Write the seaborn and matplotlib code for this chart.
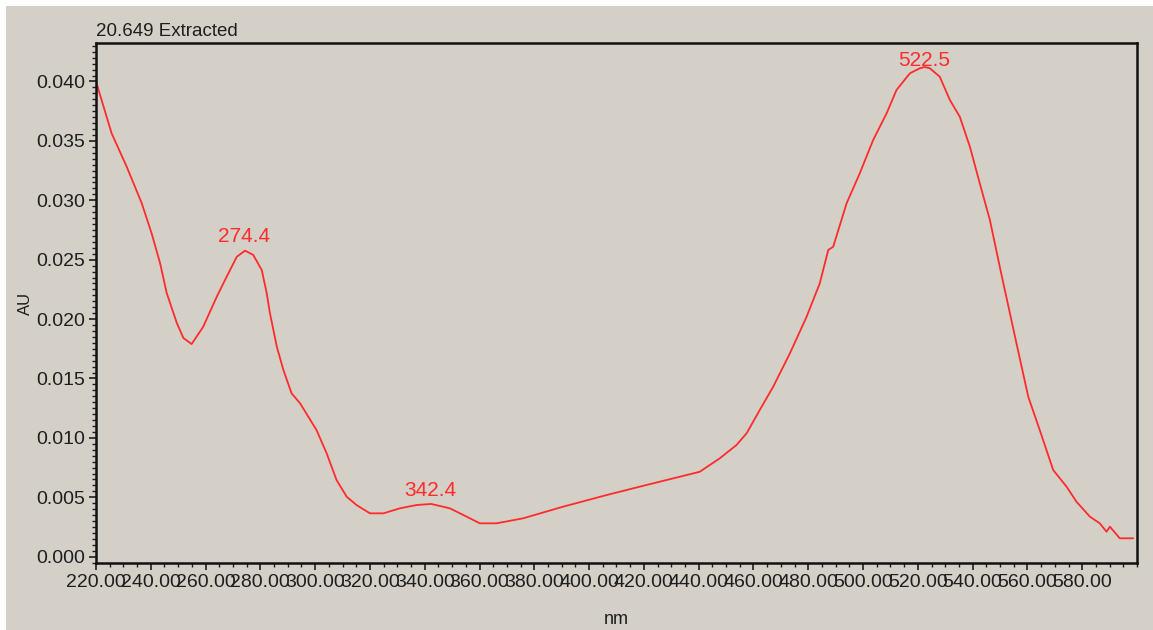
import matplotlib
matplotlib.use("Agg")
import matplotlib.pyplot as plt
from matplotlib.ticker import MultipleLocator, FormatStrFormatter
from matplotlib.patches import Rectangle
import pandas as pd
import seaborn as sns

# Extracted UV-Vis spectrum at 20.649 min
wavelength_nm = [
    220.0, 225.7, 231.2, 236.7, 240.3, 243.4, 245.8, 249.5, 251.9, 254.9,
    259.1, 264.1, 267.7, 271.4, 274.4, 277.4, 280.5, 282.3, 283.5, 286.0,
    288.4, 291.4, 294.5, 300.5, 304.2, 307.8, 311.5, 315.1, 320.0, 324.9,
    330.9, 337.0, 342.4, 349.2, 355.3, 360.1, 366.2, 375.9, 390.5, 406.4,
    421.0, 433.1, 440.4, 447.7, 453.8, 457.5, 462.3, 467.2, 473.3, 479.4,
    484.2, 487.3, 489.1, 494.0, 498.8, 503.7, 508.6, 512.2, 517.1, 520.7,
    522.5, 524.4, 528.0, 531.7, 535.3, 539.0, 542.6, 546.3, 549.9, 556.0,
    560.3, 564.5, 569.4, 574.3, 577.9, 582.8, 586.4, 588.9, 590.1, 593.7,
    598.6,
]
absorbance_au = [
    0.04000, 0.03564, 0.03283, 0.02975, 0.02722, 0.02470, 0.02220, 0.01967, 0.01841, 0.01790,
    0.01934, 0.02189, 0.02357, 0.02525, 0.02576, 0.02540, 0.02413, 0.02220, 0.02049, 0.01768,
    0.01572, 0.01375, 0.01291, 0.01066, 0.00870, 0.00646, 0.00505, 0.00435, 0.00365, 0.00365,
    0.00407, 0.00435, 0.00444, 0.00407, 0.00337, 0.00281, 0.00281, 0.00323, 0.00421, 0.00519,
    0.00604, 0.00673, 0.00715, 0.00828, 0.00940, 0.01039, 0.01235, 0.01431, 0.01712, 0.02020,
    0.02301, 0.02582, 0.02609, 0.02975, 0.03227, 0.03508, 0.03732, 0.03928, 0.04069, 0.04111,
    0.04122, 0.04111, 0.04040, 0.03844, 0.03704, 0.03451, 0.03143, 0.02834, 0.02441, 0.01796,
    0.01347, 0.01066, 0.00730, 0.00589, 0.00463, 0.00337, 0.00281, 0.00210, 0.00253, 0.00155,
    0.00155,
]

# Labelled maxima
peak_nm = [274.4, 342.4, 522.5]
peak_au = [0.02576, 0.00444, 0.04122]
peak_offset_px = [5, 4, -3]

x_ticks = [220, 240, 260, 280, 300, 320, 340, 360, 380, 400,
           420, 440, 460, 480, 500, 520, 540, 560, 580]
y_ticks = [0.000, 0.005, 0.010, 0.015, 0.020, 0.025, 0.030, 0.035, 0.040]

panel = "#d4d0c8"
trace = "#ff2a2a"
ink = "#1e1e1e"

sns.set_style("ticks", {
    "axes.facecolor": panel,
    "axes.edgecolor": "black",
    "xtick.direction": "out",
    "ytick.direction": "out",
})
plt.rcParams["font.family"] = ["Liberation Sans", "DejaVu Sans"]

fig = plt.figure(figsize=(11.53, 6.30), dpi=100, facecolor="white")
fig.patches.append(Rectangle((6 / 1153, 0), 1.0, 1 - 6 / 630,
                             transform=fig.transFigure, facecolor=panel,
                             edgecolor="none", zorder=-10))
ax = fig.add_axes([96 / 1153, 1 - 563 / 630, (1137 - 96) / 1153, (563 - 43) / 630])

df = pd.DataFrame({"nm": wavelength_nm, "AU": absorbance_au})
sns.lineplot(data=df, x="nm", y="AU", ax=ax, color=trace, linewidth=1.3,
             sort=False, legend=False)

for x, y, off in zip(peak_nm, peak_au, peak_offset_px):
    ax.annotate(f"{x:.1f}", xy=(x, y), xytext=(-1, off), textcoords="offset pixels",
                ha="center", va="bottom", color=trace, fontsize=15)

ax.set_xlim(220, 600)
ax.set_ylim(-0.00053, 0.04324)
ax.set_xticks(x_ticks)
ax.set_yticks(y_ticks)
ax.xaxis.set_major_formatter(FormatStrFormatter("%.2f"))
ax.yaxis.set_major_formatter(FormatStrFormatter("%.3f"))
ax.xaxis.set_minor_locator(MultipleLocator(5))
ax.yaxis.set_minor_locator(MultipleLocator(0.0005))
ax.tick_params(which="major", length=5, width=1.2, colors=ink, labelsize=14, pad=3)
ax.tick_params(which="minor", length=3, width=1.0, colors=ink)

for s in ax.spines.values():
    s.set_visible(True)
    s.set_linewidth(1.8)
    s.set_color("#111111")

ax.set_xlabel("nm", fontsize=13, color=ink, labelpad=14)
ax.set_ylabel("AU", fontsize=12, color=ink, labelpad=2)
ax.set_title("20.649 Extracted", loc="left", fontsize=13.5, color=ink, pad=5)

fig.savefig("out.png", dpi=100, facecolor="white")
